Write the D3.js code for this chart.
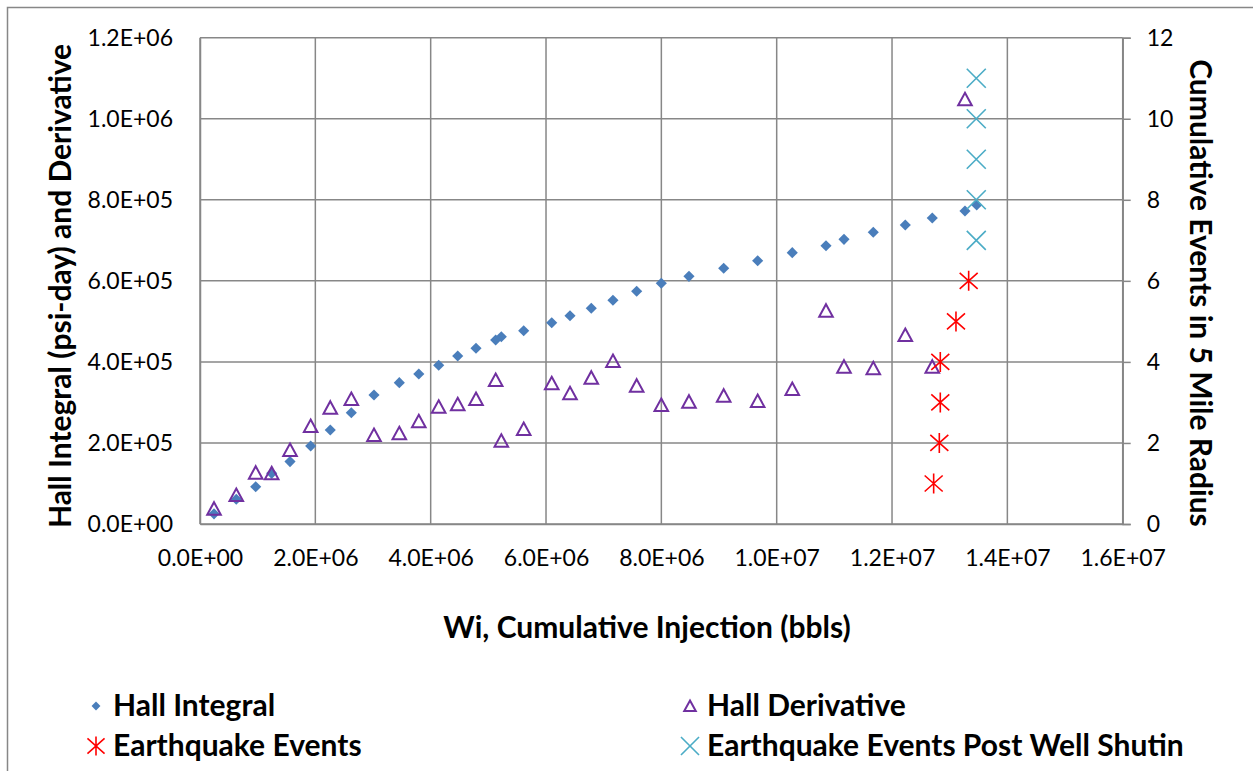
<!DOCTYPE html>
<html>
<head>
<meta charset="utf-8">
<script src="https://cdn.jsdelivr.net/npm/d3@7"></script>
<style>
  body { margin: 0; background: #fff; }
  text { font-family: Lato, "Open Sans", sans-serif; fill: #000; }
</style>
</head>
<body>
<div id="cont"></div>
<script>
// Data
var injection = [2.43e5, 6.29e5, 9.66e5, 1.243e6, 1.561e6, 1.919e6, 2.259e6, 2.624e6, 3.017e6, 3.456e6,
  3.794e6, 4.139e6, 4.469e6, 4.786e6, 5.127e6, 5.225e6, 5.613e6, 6.099e6, 6.416e6, 6.785e6,
  7.161e6, 7.572e6, 7.999e6, 8.479e6, 9.081e6, 9.670e6, 1.027e7, 1.0855e7, 1.1167e7, 1.1675e7,
  1.2230e7, 1.2698e7, 1.3265e7, 1.3468e7];
var hallIntegral = [25000, 61000, 92000, 125000, 154000, 192500, 232000, 274600, 318300, 348700,
  370100, 391600, 414600, 433600, 454000, 462200, 477000, 496700, 514000, 532300,
  552000, 574200, 594000, 611200, 631000, 649700, 669500, 686700, 702500, 719800,
  737800, 755100, 772400, 787200];
var hallDerivative = [37750, 71560, 126600, 125100, 182600, 241800, 287000, 308500, 219600, 223800,
  253400, 289400, 295400, 308500, 355300, 205500, 234400, 347200, 322500, 361000,
  402200, 341300, 293600, 301800, 316600, 303500, 333100, 526300, 388200, 384200,
  466400, 388200, 1048000];
var quakeX = [1.2722e7, 1.2820e7, 1.2837e7, 1.2837e7, 1.3109e7, 1.3329e7];
var quakeCount = [1, 2, 3, 4, 5, 6];
var shutinX = [1.3461e7, 1.3461e7, 1.3461e7, 1.3461e7, 1.3461e7];
var shutinCount = [7, 8, 9, 10, 11];

var xTicks = d3.range(0, 1.6e7 + 1, 2e6);
var yTicks = d3.range(0, 1.2e6 + 1, 2e5);
var y2Ticks = d3.range(0, 13, 2);

var legendItems = [
  {name: "Hall Integral", key: "diamond", col: 0, row: 0},
  {name: "Hall Derivative", key: "triangle", col: 1, row: 0},
  {name: "Earthquake Events", key: "star", col: 0, row: 1},
  {name: "Earthquake Events Post Well Shutin", key: "cross", col: 1, row: 1}
];

// Layout
var W = 1253, H = 771;
var plot = {left: 200, top: 37.7, right: 1122.7, bottom: 524};
var gridCol = "#878787";
var blue = "#4a7ebb", purple = "#7030a0", red = "#ff0000", cyan = "#4bacc6";
var tickSize = 23, titleSize = 30;

var svg = d3.select("#cont").append("svg")
    .attr("width", W)
    .attr("height", H);

// chart frame
svg.append("rect")
    .attr("x", 7.5).attr("y", 7.5)
    .attr("width", 1270).attr("height", 800)
    .attr("fill", "none")
    .attr("stroke", gridCol)
    .attr("stroke-width", 1.5);

var x = d3.scaleLinear().domain([0, 1.6e7]).range([plot.left, plot.right]);
var y = d3.scaleLinear().domain([0, 1.2e6]).range([plot.bottom, plot.top]);
var y2 = d3.scaleLinear().domain([0, 12]).range([plot.bottom, plot.top]);

var fmt = function(v) {
  var s = v.toExponential(1).toUpperCase();   // 1.2E+6
  return s.replace(/E([+-])(\d)$/, "E$10$2");
};

// gridlines
var grid = svg.append("g");
grid.selectAll(".hg").data(yTicks).enter().append("line")
    .attr("x1", plot.left).attr("x2", plot.right)
    .attr("y1", function(d) { return y(d); })
    .attr("y2", function(d) { return y(d); })
    .attr("stroke", gridCol).attr("stroke-width", 1.5);
grid.selectAll(".vg").data(xTicks).enter().append("line")
    .attr("x1", function(d) { return x(d); })
    .attr("x2", function(d) { return x(d); })
    .attr("y1", plot.top).attr("y2", plot.bottom)
    .attr("stroke", gridCol).attr("stroke-width", 1.5);

// axes (library axes, styled like the original)
var xAxis = svg.append("g")
    .attr("transform", "translate(0," + plot.bottom + ")")
    .call(d3.axisBottom(x).tickValues(xTicks).tickFormat(fmt).tickSize(0).tickPadding(26));
var yAxis = svg.append("g")
    .attr("transform", "translate(" + plot.left + ",0)")
    .call(d3.axisLeft(y).tickValues(yTicks).tickFormat(fmt).tickSize(0).tickPadding(27));
var y2Axis = svg.append("g")
    .attr("transform", "translate(" + plot.right + ",0)")
    .call(d3.axisRight(y2).tickValues(y2Ticks).tickSize(8).tickPadding(16));

[xAxis, yAxis, y2Axis].forEach(function(a) {
  a.select(".domain").attr("stroke", gridCol).attr("stroke-width", 1.5);
  a.selectAll(".tick line").attr("stroke", gridCol).attr("stroke-width", 1.5);
  a.selectAll("text").attr("font-family", "Lato").attr("font-size", tickSize).attr("fill", "#000");
});

// axis titles
svg.append("text")
    .attr("transform", "translate(71,286) rotate(-90)")
    .attr("text-anchor", "middle")
    .attr("font-size", titleSize).attr("font-weight", "bold")
    .text("Hall Integral (psi-day) and Derivative");
svg.append("text")
    .attr("transform", "translate(1190,293) rotate(90)")
    .attr("text-anchor", "middle")
    .attr("font-size", titleSize).attr("font-weight", "bold")
    .text("Cumulative Events in 5 Mile Radius");
svg.append("text")
    .attr("x", 647).attr("y", 638)
    .attr("text-anchor", "middle")
    .attr("font-size", titleSize).attr("font-weight", "bold")
    .text("Wi, Cumulative Injection (bbls)");

// marker painters
var markers = {
  diamond: function(g, s) {
    g.append("path")
      .attr("d", d3.symbol().type(d3.symbolSquare).size(62 * s * s)())
      .attr("transform", "rotate(45)")
      .attr("fill", blue);
  },
  triangle: function(g, s) {
    g.append("path")
      .attr("d", "M0," + (-6.5 * s) + "L" + (6.8 * s) + "," + (6 * s) + "L" + (-6.8 * s) + "," + (6 * s) + "Z")
      .attr("fill", "none").attr("stroke", purple).attr("stroke-width", 2);
  },
  star: function(g, s) {
    g.append("path")
      .attr("d", "M0," + (-10 * s) + "V" + (10 * s) +
        "M" + (-9 * s) + "," + (-8 * s) + "L" + (9 * s) + "," + (8 * s) +
        "M" + (9 * s) + "," + (-8 * s) + "L" + (-9 * s) + "," + (8 * s))
      .attr("fill", "none").attr("stroke", red).attr("stroke-width", 1.6);
  },
  cross: function(g, s) {
    g.append("path")
      .attr("d", "M" + (-9.5 * s) + "," + (-9.5 * s) + "L" + (9.5 * s) + "," + (9.5 * s) +
        "M" + (9.5 * s) + "," + (-9.5 * s) + "L" + (-9.5 * s) + "," + (9.5 * s))
      .attr("fill", "none").attr("stroke", cyan).attr("stroke-width", 1.6);
  }
};

var drawSeries = function(xs, ys, scaleY, key) {
  var g = svg.append("g").attr("class", "series-" + key);
  ys.forEach(function(v, i) {
    var m = g.append("g").attr("transform", "translate(" + x(xs[i]) + "," + scaleY(v) + ")");
    markers[key](m, 1);
  });
};

drawSeries(injection, hallIntegral, y, "diamond");
drawSeries(injection, hallDerivative, y, "triangle");
drawSeries(quakeX, quakeCount, y2, "star");
drawSeries(shutinX, shutinCount, y2, "cross");

// legend
var legend = svg.append("g");
legendItems.forEach(function(d) {
  var lx = d.col === 0 ? 96 : 690;
  var ly = 706 + d.row * 40;
  var m = legend.append("g").attr("transform", "translate(" + lx + "," + ly + ")");
  markers[d.key](m, d.key === "diamond" ? 0.8 : (d.key === "triangle" ? 0.85 : 0.95));
  legend.append("text")
    .attr("x", lx + 17).attr("y", ly + 10)
    .attr("font-size", titleSize).attr("font-weight", "bold")
    .text(d.name);
});
</script>
</body>
</html>
